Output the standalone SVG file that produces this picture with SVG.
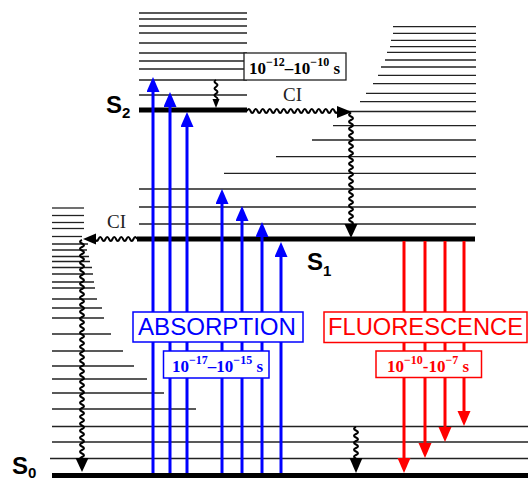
<svg xmlns="http://www.w3.org/2000/svg" width="528" height="483" viewBox="0 0 528 483">
<style>
.lv{stroke:#222;stroke-width:1.3;fill:none}
.thick{stroke:#000;stroke-width:5;fill:none}
.wave{stroke:#000;stroke-width:2;fill:none}
.head{fill:#000}
.blue{stroke:#0000ff;stroke-width:3;fill:none}
.red{stroke:#ff0000;stroke-width:3;fill:none}
.lbl{font-family:"Liberation Sans",Arial,sans-serif;font-weight:bold;fill:#000}
.ci{font-family:"Liberation Serif","Times New Roman",serif;font-size:19px;fill:#222}
.tm{font-family:"Liberation Serif","Times New Roman",serif;font-weight:bold;font-size:17px}
.big{font-family:"Liberation Sans",Arial,sans-serif;font-size:24px}
</style>
<defs>
<marker id="ab" markerUnits="userSpaceOnUse" markerWidth="16" markerHeight="14" refX="0" refY="6.5" orient="auto" viewBox="0 0 16 14"><path d="M0,0 L15,6.5 L0,13 z" fill="#0000ff"/></marker>
<marker id="ar" markerUnits="userSpaceOnUse" markerWidth="16" markerHeight="14" refX="0" refY="6.5" orient="auto" viewBox="0 0 16 14"><path d="M0,0 L15,6.5 L0,13 z" fill="#ff0000"/></marker>
</defs>
<rect width="528" height="483" fill="#fff"/>

<g id="S0">
<g class="lv">
<line x1="52" y1="208" x2="84" y2="208"/>
<line x1="52" y1="215.5" x2="84" y2="215.5"/>
<line x1="52" y1="222.5" x2="84" y2="222.5"/>
<line x1="52" y1="228.5" x2="84" y2="228.5"/>
<line x1="52" y1="236.5" x2="82" y2="236.5"/>
<line x1="52" y1="244" x2="88" y2="244"/>
<line x1="52" y1="250" x2="87" y2="250"/>
<line x1="52" y1="256.5" x2="89" y2="256.5"/>
<line x1="52" y1="261.5" x2="90" y2="261.5"/>
<line x1="52" y1="267.5" x2="92" y2="267.5"/>
<line x1="52" y1="274" x2="93" y2="274"/>
<line x1="52" y1="282" x2="94" y2="282"/>
<line x1="52" y1="288" x2="95" y2="288"/>
<line x1="52" y1="299" x2="97" y2="299"/>
<line x1="52" y1="308" x2="102" y2="308"/>
<line x1="52" y1="318" x2="104" y2="318"/>
<line x1="52" y1="334" x2="111" y2="334"/>
<line x1="52" y1="351" x2="123" y2="351"/>
<line x1="52" y1="366" x2="134" y2="366"/>
<line x1="52" y1="379" x2="147" y2="379"/>
<line x1="52" y1="393" x2="164" y2="393"/>
<line x1="52" y1="409" x2="196" y2="409"/>
<line x1="52" y1="426.5" x2="528" y2="426.5"/>
<line x1="52" y1="442" x2="528" y2="442"/>
<line x1="50" y1="458.5" x2="528" y2="458.5"/>
</g>
<line class="thick" x1="52" y1="475.5" x2="528" y2="475.5"/>
<text class="lbl" x="12" y="474" font-size="24">S<tspan font-size="15" dy="4">0</tspan></text>
</g>

<g id="S1">
<g class="lv">
<line x1="393" y1="26.7" x2="476" y2="26.7"/>
<line x1="393" y1="33.3" x2="476" y2="33.3"/>
<line x1="391" y1="40.3" x2="476" y2="40.3"/>
<line x1="390" y1="46.7" x2="476" y2="46.7"/>
<line x1="387" y1="52.3" x2="476" y2="52.3"/>
<line x1="385" y1="60" x2="476" y2="60"/>
<line x1="381" y1="67" x2="476" y2="67"/>
<line x1="378" y1="75.3" x2="476" y2="75.3"/>
<line x1="373" y1="83.7" x2="476" y2="83.7"/>
<line x1="366" y1="93.3" x2="476" y2="93.3"/>
<line x1="360" y1="101.7" x2="476" y2="101.7"/>
<line x1="348" y1="111.5" x2="476" y2="111.5"/>
<line x1="333" y1="125.7" x2="476" y2="125.7"/>
<line x1="312" y1="140" x2="476" y2="140"/>
<line x1="276" y1="156.7" x2="476" y2="156.7"/>
<line x1="224" y1="173.3" x2="476" y2="173.3"/>
<line x1="139" y1="189" x2="476" y2="189"/>
<line x1="139" y1="207" x2="476" y2="207"/>
<line x1="139" y1="224" x2="476" y2="224"/>
</g>
<line class="thick" x1="137" y1="239" x2="475" y2="239"/>
<text class="lbl" x="307" y="270" font-size="24">S<tspan font-size="15" dy="6">1</tspan></text>
</g>

<g id="S2">
<g class="lv">
<line x1="139" y1="13" x2="247" y2="13"/>
<line x1="139" y1="19" x2="247" y2="19"/>
<line x1="139" y1="26" x2="247" y2="26"/>
<line x1="139" y1="33" x2="247" y2="33"/>
<line x1="139" y1="43" x2="247" y2="43"/>
<line x1="139" y1="53" x2="247" y2="53"/>
<line x1="139" y1="61" x2="247" y2="61"/>
<line x1="139" y1="69" x2="247" y2="69"/>
<line x1="139" y1="80" x2="247" y2="80"/>
<line x1="139" y1="95" x2="247" y2="95"/>
</g>
<line class="thick" x1="139" y1="110" x2="247" y2="110"/>
<text class="lbl" x="106" y="113" font-size="24">S<tspan font-size="15" dy="5">2</tspan></text>
</g>

<g id="connectors">
<path class="wave" stroke-width="1" d="M216,80 q-3,1.7 0,3.4 t0,3.4 t0,3.4 t0,3.4 t0,3.4 t0,3.4 L216,100"/>
<polygon class="head" points="212.5,99 219.5,99 216,108"/>

<path class="wave" d="M247,111 q1.75,-4 3.5,0 t3.5,0 t3.5,0 t3.5,0 t3.5,0 t3.5,0 t3.5,0 t3.5,0 t3.5,0 t3.5,0 t3.5,0 t3.5,0 t3.5,0 t3.5,0 t3.5,0 t3.5,0 t3.5,0 t3.5,0 t3.5,0 t3.5,0 t3.5,0 t3.5,0 t3.5,0 t3.5,0 t3.5,0 t3.5,0 L345,112"/>
<polygon class="head" points="337,106 352,112 337,118"/>
<path class="wave" d="M351,113 q-4,1.75 0,3.5 t0,3.5 t0,3.5 t0,3.5 t0,3.5 t0,3.5 t0,3.5 t0,3.5 t0,3.5 t0,3.5 t0,3.5 t0,3.5 t0,3.5 t0,3.5 t0,3.5 t0,3.5 t0,3.5 t0,3.5 t0,3.5 t0,3.5 t0,3.5 t0,3.5 t0,3.5 t0,3.5 t0,3.5 t0,3.5 t0,3.5 t0,3.5 t0,3.5 t0,3.5 t0,3.5 t0,3.5"/>
<polygon class="head" points="344.5,224 357.5,224 351,238"/>

<path class="wave" d="M137,239 q-1.75,-4 -3.5,0 t-3.5,0 t-3.5,0 t-3.5,0 t-3.5,0 t-3.5,0 t-3.5,0 t-3.5,0 t-3.5,0 t-3.5,0 t-3.5,0 t-3.5,0"/>
<polygon class="head" points="96,233.5 83,239 96,244.5"/>
<path class="wave" d="M82,240 q-4,1.75 0,3.5 t0,3.5 t0,3.5 t0,3.5 t0,3.5 t0,3.5 t0,3.5 t0,3.5 t0,3.5 t0,3.5 t0,3.5 t0,3.5 t0,3.5 t0,3.5 t0,3.5 t0,3.5 t0,3.5 t0,3.5 t0,3.5 t0,3.5 t0,3.5 t0,3.5 t0,3.5 t0,3.5 t0,3.5 t0,3.5 t0,3.5 t0,3.5 t0,3.5 t0,3.5 t0,3.5 t0,3.5 t0,3.5 t0,3.5 t0,3.5 t0,3.5 t0,3.5 t0,3.5 t0,3.5 t0,3.5 t0,3.5 t0,3.5 t0,3.5 t0,3.5 t0,3.5 t0,3.5 t0,3.5 t0,3.5 t0,3.5 t0,3.5 t0,3.5 t0,3.5 t0,3.5 t0,3.5 t0,3.5 t0,3.5 t0,3.5 t0,3.5 t0,3.5 t0,3.5 t0,3.5 t0,3.5 t0,3.5"/>
<polygon class="head" points="75.5,458 88.5,458 82,472"/>

<path class="wave" d="M356,427 q-4,1.75 0,3.5 t0,3.5 t0,3.5 t0,3.5 t0,3.5 t0,3.5 t0,3.5 t0,3.5 t0,3.5"/>
<polygon class="head" points="349.5,458 362.5,458 356,473"/>

<g class="blue">
<line x1="153" y1="473" x2="153" y2="92" marker-end="url(#ab)"/>
<line x1="170" y1="473" x2="170" y2="107" marker-end="url(#ab)"/>
<line x1="187" y1="473" x2="187" y2="127" marker-end="url(#ab)"/>
<line x1="222" y1="473" x2="222" y2="204" marker-end="url(#ab)"/>
<line x1="242" y1="473" x2="242" y2="221" marker-end="url(#ab)"/>
<line x1="262" y1="473" x2="262" y2="237" marker-end="url(#ab)"/>
<line x1="281" y1="473" x2="281" y2="257" marker-end="url(#ab)"/>
</g>
<g class="red">
<line x1="404" y1="241" x2="404" y2="458" marker-end="url(#ar)"/>
<line x1="425" y1="241" x2="425" y2="443" marker-end="url(#ar)"/>
<line x1="445" y1="241" x2="445" y2="427" marker-end="url(#ar)"/>
<line x1="464" y1="241" x2="464" y2="411" marker-end="url(#ar)"/>
</g>
</g>

<g id="ci-labels">
<text class="ci" x="283" y="101">CI</text>
<text class="ci" x="107" y="228">CI</text>
</g>

<g id="box-s2-time">
<rect x="244" y="53" width="102" height="27" fill="#fff" stroke="#222" stroke-width="1.3"/>
<text class="tm" x="249" y="74" fill="#000">10<tspan font-size="12" dy="-8">−12</tspan><tspan dy="8">–10</tspan><tspan font-size="12" dy="-8">−10</tspan><tspan dy="8"> s</tspan></text>
</g>

<g id="absorption">
<rect x="133" y="312" width="170" height="30" fill="#fff" stroke="#0000ff" stroke-width="1.5"/>
<text class="big" x="138" y="335" fill="#0000ff" textLength="158" lengthAdjust="spacingAndGlyphs">ABSORPTION</text>
<rect x="163.5" y="351" width="105.5" height="27" fill="#fff" stroke="#0000ff" stroke-width="1.5"/>
<text class="tm" x="172" y="372" fill="#0000ff">10<tspan font-size="12" dy="-8">−17</tspan><tspan dy="8">–10</tspan><tspan font-size="12" dy="-8">−15</tspan><tspan dy="8"> s</tspan></text>
</g>

<g id="fluorescence">
<rect x="324" y="312" width="203" height="30.5" fill="#fff" stroke="#ff0000" stroke-width="1.5"/>
<text class="big" x="328" y="335" fill="#ff0000" textLength="195" lengthAdjust="spacingAndGlyphs">FLUORESCENCE</text>
<rect x="376" y="351" width="105.5" height="26.5" fill="#fff" stroke="#ff0000" stroke-width="1.5"/>
<text class="tm" x="387" y="372" fill="#ff0000">10<tspan font-size="12" dy="-8">−10</tspan><tspan dy="8">-10</tspan><tspan font-size="12" dy="-8">−7</tspan><tspan dy="8"> s</tspan></text>
</g>
</svg>
